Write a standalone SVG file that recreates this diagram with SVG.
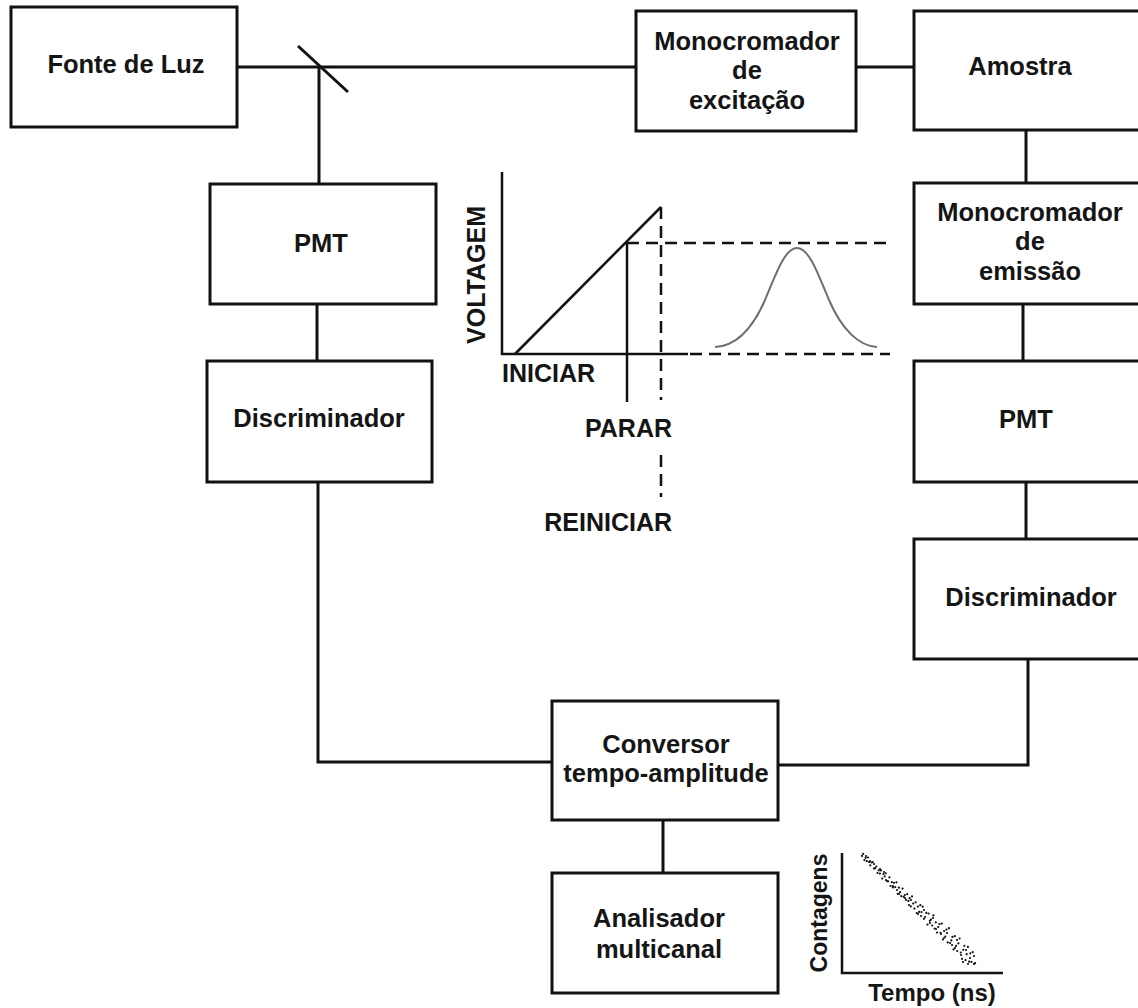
<svg xmlns="http://www.w3.org/2000/svg" width="1138" height="1008" viewBox="0 0 1138 1008">
<style>
.box{fill:#fff;stroke:#111;stroke-width:3}
.lbl{font-family:"Liberation Sans",Arial,sans-serif;font-weight:bold;font-size:25.5px;fill:#151515;text-anchor:middle}
.ax{font-family:"Liberation Sans",Arial,sans-serif;font-weight:bold;font-size:25px;fill:#151515}
.ln{fill:none;stroke:#111;stroke-width:3}
.th{fill:none;stroke:#111;stroke-width:2.5}
.dash{fill:none;stroke:#111;stroke-width:2.5;stroke-dasharray:12 7}
.dot circle{fill:#111}
</style>
<rect width="1138" height="1008" fill="#fff"/>
<g id="connectors">
<polyline class="ln" points="237,67 636,67"/>
<line class="ln" x1="298" y1="46" x2="348" y2="92"/>
<polyline class="ln" points="319,67 319,184"/>
<polyline class="ln" points="856,67 914,67"/>
<polyline class="ln" points="1026,130 1026,183"/>
<polyline class="ln" points="317,304 317,361"/>
<polyline class="ln" points="318,482 318,762 552,762"/>
<polyline class="ln" points="1023,304 1023,361"/>
<polyline class="ln" points="1026,482 1026,539"/>
<polyline class="ln" points="1028,659 1028,765 778,765"/>
<polyline class="ln" points="663,820 663,873"/>
</g>
<g id="fonte-de-luz">
<rect class="box" x="11" y="7" width="226" height="120"/>
<text class="lbl" x="126" y="73">Fonte de Luz</text>
</g>
<g id="monocromador-excitacao">
<rect class="box" x="636" y="11" width="220" height="120"/>
<text class="lbl" x="747" y="50">Monocromador</text>
<text class="lbl" x="747" y="79">de</text>
<text class="lbl" x="747" y="109">excitação</text>
</g>
<g id="amostra">
<rect class="box" x="914" y="11" width="240" height="119"/>
<text class="lbl" x="1020" y="75">Amostra</text>
</g>
<g id="monocromador-emissao">
<rect class="box" x="914" y="183" width="240" height="121"/>
<text class="lbl" x="1030" y="221">Monocromador</text>
<text class="lbl" x="1030" y="250">de</text>
<text class="lbl" x="1030" y="280">emissão</text>
</g>
<g id="pmt-left">
<rect class="box" x="210" y="184" width="226" height="120"/>
<text class="lbl" x="321" y="252">PMT</text>
</g>
<g id="discriminador-left">
<rect class="box" x="207" y="361" width="225" height="121"/>
<text class="lbl" x="319" y="427">Discriminador</text>
</g>
<g id="pmt-right">
<rect class="box" x="914" y="361" width="240" height="121"/>
<text class="lbl" x="1026" y="428">PMT</text>
</g>
<g id="discriminador-right">
<rect class="box" x="914" y="539" width="240" height="120"/>
<text class="lbl" x="1031" y="606">Discriminador</text>
</g>
<g id="conversor">
<rect class="box" x="552" y="701" width="226" height="119"/>
<text class="lbl" x="666" y="753">Conversor</text>
<text class="lbl" x="666" y="782">tempo-amplitude</text>
</g>
<g id="analisador">
<rect class="box" x="552" y="873" width="226" height="120"/>
<text class="lbl" x="659" y="927">Analisador</text>
<text class="lbl" x="659" y="958">multicanal</text>
</g>
<g id="voltage-graph">
<polyline class="th" points="502,172 502,354 688,354"/>
<line class="dash" x1="690" y1="354" x2="890" y2="354"/>
<line class="th" x1="515" y1="354" x2="661" y2="207"/>
<line class="th" x1="627" y1="243" x2="627" y2="402"/>
<line class="dash" x1="627" y1="243" x2="890" y2="243"/>
<line class="dash" x1="661" y1="207" x2="661" y2="400"/>
<line class="dash" x1="661" y1="455" x2="661" y2="497"/>
<path d="M715,347 C735,346 752,330 765,300 C778,268 786,248 797,248 C808,248 816,268 829,300 C842,330 859,346 877,347" fill="none" stroke="#6e6e6e" stroke-width="2"/>
<text class="ax" transform="translate(485,275) rotate(-90)" text-anchor="middle">VOLTAGEM</text>
<text class="ax" x="502" y="382">INICIAR</text>
<text class="ax" x="672" y="437" text-anchor="end">PARAR</text>
<text class="ax" x="672" y="531" text-anchor="end">REINICIAR</text>
</g>
<g id="decay-plot">
<polyline class="th" points="842,853 842,973 1003,973"/>
<text class="ax" transform="translate(827,913) rotate(-90)" text-anchor="middle" style="font-size:23px">Contagens</text>
<text class="ax" x="932" y="1001" text-anchor="middle" style="font-size:24px">Tempo (ns)</text>
<g class="dot">
<circle cx="862" cy="855.9" r="1.1"/><circle cx="863.2" cy="853.9" r="1.1"/><circle cx="864.4" cy="860.1" r="1.1"/><circle cx="865.6" cy="857.8" r="1.1"/><circle cx="866.8" cy="861.2" r="1.1"/><circle cx="868" cy="857.5" r="1.1"/><circle cx="869.1" cy="862.1" r="1.1"/><circle cx="870.3" cy="865.4" r="1.1"/><circle cx="871.5" cy="862.5" r="1.1"/><circle cx="872.7" cy="862.1" r="1.1"/>
<circle cx="873.9" cy="868.6" r="1.1"/><circle cx="875.1" cy="868.2" r="1.1"/><circle cx="876.3" cy="866.5" r="1.1"/><circle cx="877.5" cy="873" r="1.1"/><circle cx="878.7" cy="870.4" r="1.1"/><circle cx="879.9" cy="873.6" r="1.1"/><circle cx="881" cy="870.4" r="1.1"/><circle cx="882.2" cy="878.6" r="1.1"/><circle cx="883.4" cy="874" r="1.1"/><circle cx="884.6" cy="876.4" r="1.1"/>
<circle cx="885.8" cy="873.3" r="1.1"/><circle cx="887" cy="881.1" r="1.1"/><circle cx="888.2" cy="881.3" r="1.1"/><circle cx="889.4" cy="877.4" r="1.1"/><circle cx="890.6" cy="886" r="1.1"/><circle cx="891.8" cy="882.2" r="1.1"/><circle cx="892.9" cy="887.4" r="1.1"/><circle cx="894.1" cy="882.8" r="1.1"/><circle cx="895.3" cy="887.1" r="1.1"/><circle cx="896.5" cy="882.3" r="1.1"/>
<circle cx="897.7" cy="893.8" r="1.1"/><circle cx="898.9" cy="887.7" r="1.1"/><circle cx="900.1" cy="892.2" r="1.1"/><circle cx="901.3" cy="896.2" r="1.1"/><circle cx="902.5" cy="888.6" r="1.1"/><circle cx="903.7" cy="896.8" r="1.1"/><circle cx="904.8" cy="895" r="1.1"/><circle cx="906" cy="899.8" r="1.1"/><circle cx="907.2" cy="894.1" r="1.1"/><circle cx="908.4" cy="900.9" r="1.1"/>
<circle cx="909.6" cy="898.2" r="1.1"/><circle cx="910.8" cy="906.4" r="1.1"/><circle cx="912" cy="896.4" r="1.1"/><circle cx="913.2" cy="903.5" r="1.1"/><circle cx="914.4" cy="908.6" r="1.1"/><circle cx="915.6" cy="902.3" r="1.1"/><circle cx="916.7" cy="913" r="1.1"/><circle cx="917.9" cy="906.6" r="1.1"/><circle cx="919.1" cy="911.9" r="1.1"/><circle cx="920.3" cy="905.2" r="1.1"/>
<circle cx="921.5" cy="912.1" r="1.1"/><circle cx="922.7" cy="906.7" r="1.1"/><circle cx="923.9" cy="918.8" r="1.1"/><circle cx="925.1" cy="917" r="1.1"/><circle cx="926.3" cy="912.9" r="1.1"/><circle cx="927.5" cy="924.6" r="1.1"/><circle cx="928.6" cy="913.5" r="1.1"/><circle cx="929.8" cy="920.8" r="1.1"/><circle cx="931" cy="919.6" r="1.1"/><circle cx="932.2" cy="925.5" r="1.1"/>
<circle cx="933.4" cy="915.4" r="1.1"/><circle cx="934.6" cy="928.6" r="1.1"/><circle cx="935.8" cy="922.4" r="1.1"/><circle cx="937" cy="932.6" r="1.1"/><circle cx="938.2" cy="927.1" r="1.1"/><circle cx="939.4" cy="924.1" r="1.1"/><circle cx="940.5" cy="932.8" r="1.1"/><circle cx="941.7" cy="923.6" r="1.1"/><circle cx="942.9" cy="939.5" r="1.1"/><circle cx="944.1" cy="931" r="1.1"/>
<circle cx="945.3" cy="936.6" r="1.1"/><circle cx="946.5" cy="929.6" r="1.1"/><circle cx="947.7" cy="942.4" r="1.1"/><circle cx="948.9" cy="928.2" r="1.1"/><circle cx="950.1" cy="943" r="1.1"/><circle cx="951.3" cy="940.4" r="1.1"/><circle cx="952.4" cy="936.9" r="1.1"/><circle cx="953.6" cy="949.4" r="1.1"/><circle cx="954.8" cy="936.2" r="1.1"/><circle cx="956" cy="945.9" r="1.1"/>
<circle cx="957.2" cy="951" r="1.1"/><circle cx="958.4" cy="943.4" r="1.1"/><circle cx="959.6" cy="938.5" r="1.1"/><circle cx="960.8" cy="952.5" r="1.1"/><circle cx="962" cy="958.8" r="1.1"/><circle cx="963.2" cy="949.8" r="1.1"/><circle cx="964.3" cy="945.8" r="1.1"/><circle cx="965.5" cy="960.2" r="1.1"/><circle cx="966.7" cy="954.2" r="1.1"/><circle cx="967.9" cy="946.9" r="1.1"/>
<circle cx="969.1" cy="961.7" r="1.1"/><circle cx="970.3" cy="953.3" r="1.1"/><circle cx="971.5" cy="961.9" r="1.1"/><circle cx="972.7" cy="952.2" r="1.1"/><circle cx="973.9" cy="964" r="1.1"/><circle cx="975.1" cy="963.2" r="1.1"/>
<circle cx="866" cy="856" r="1.1"/><circle cx="874" cy="864" r="1.1"/><circle cx="880" cy="869" r="1.1"/><circle cx="886" cy="880" r="1.1"/><circle cx="893" cy="886" r="1.1"/><circle cx="899" cy="894" r="1.1"/><circle cx="905" cy="898" r="1.1"/><circle cx="911" cy="900" r="1.1"/><circle cx="918" cy="914" r="1.1"/><circle cx="924" cy="910" r="1.1"/>
<circle cx="930" cy="923" r="1.1"/><circle cx="936" cy="929" r="1.1"/><circle cx="941" cy="934" r="1.1"/><circle cx="947" cy="933" r="1.1"/><circle cx="952" cy="945" r="1.1"/><circle cx="957" cy="940" r="1.1"/><circle cx="961" cy="955" r="1.1"/><circle cx="966" cy="950" r="1.1"/><circle cx="970" cy="958" r="1.1"/><circle cx="974" cy="956" r="1.1"/>
<circle cx="870" cy="861" r="1.1"/><circle cx="884" cy="872" r="1.1"/><circle cx="897" cy="890" r="1.1"/><circle cx="909" cy="905" r="1.1"/><circle cx="921" cy="916" r="1.1"/><circle cx="933" cy="918" r="1.1"/><circle cx="944" cy="938" r="1.1"/><circle cx="955" cy="948" r="1.1"/><circle cx="963" cy="962" r="1.1"/><circle cx="968" cy="964" r="1.1"/>
</g>
</g>
</svg>
